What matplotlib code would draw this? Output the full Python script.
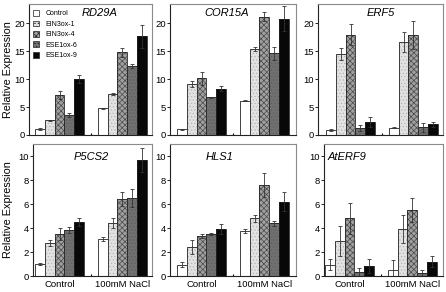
import numpy as np
import matplotlib.pyplot as plt
from matplotlib.patches import Patch

plt.rcParams['font.family'] = ['Liberation Sans', 'DejaVu Sans']
plt.rcParams['hatch.linewidth'] = 0.5

lines = ['Control', 'EIN3ox-1', 'EIN3ox-4', 'ESE1ox-6', 'ESE1ox-9']
conditions = ['Control', '100mM NaCl']
genes = ['RD29A', 'COR15A', 'ERF5', 'P5CS2', 'HLS1', 'AtERF9']

# mean values, one row per condition (Control, 100mM NaCl)
rd29a = [[1.1, 2.6, 7.1, 3.6, 10.0], [4.8, 7.3, 14.8, 12.3, 17.6]]
rd29a_err = [[0.15, 0.15, 0.7, 0.3, 0.8], [0.1, 0.2, 0.8, 0.4, 2.1]]
cor15a = [[1.0, 9.1, 10.1, 6.7, 8.3], [6.1, 15.4, 21.1, 14.6, 20.8]]
cor15a_err = [[0.1, 0.5, 1.1, 0.1, 0.5], [0.1, 0.4, 0.8, 1.2, 2.3]]
erf5 = [[0.9, 14.5, 17.9, 1.3, 2.4], [1.3, 16.6, 17.9, 1.4, 1.9]]
erf5_err = [[0.1, 1.1, 1.9, 0.5, 0.9], [0.1, 1.8, 2.5, 0.8, 0.4]]
p5cs2 = [[1.0, 2.75, 3.5, 3.85, 4.5], [3.1, 4.4, 6.4, 6.5, 9.7]]
p5cs2_err = [[0.05, 0.25, 0.5, 0.25, 0.35], [0.15, 0.4, 0.6, 0.75, 1.0]]
hls1 = [[0.95, 2.4, 3.35, 3.5, 3.9], [3.75, 4.8, 7.55, 4.4, 6.2]]
hls1_err = [[0.2, 0.6, 0.15, 0.1, 0.4], [0.2, 0.3, 1.0, 0.2, 0.8]]
aterf9 = [[0.95, 2.9, 4.8, 0.3, 0.85], [0.5, 3.9, 5.5, 0.25, 1.2]]
aterf9_err = [[0.45, 1.25, 1.3, 0.35, 0.6], [0.85, 1.15, 1.0, 0.25, 0.45]]

values = [rd29a, cor15a, erf5, p5cs2, hls1, aterf9]
errors = [rd29a_err, cor15a_err, erf5_err, p5cs2_err, hls1_err, aterf9_err]

colors = ['white', '#e2e2e2', '#a0a0a0', '#707070', '#080808']
hatches = [None, '.....', 'xxxxxx', '.....', None]
hatch_cols = ['black', '#b4b4b4', '#4a4a4a', '#5e5e5e', 'black']

W, H = 446, 292
fig = plt.figure(figsize=(W / 100, H / 100), dpi=100)

# axes boxes in pixels: left, right, top, bottom
boxes = [(29, 152, 4, 135), (170, 296, 4, 135), (318, 443, 4, 135),
         (33, 152, 144, 276), (170, 296, 144, 276), (324, 443, 144, 276)]
first_bar = [35, 177, 326, 35, 177, 325]
title_x = [100, 227, 381, 91, 220, 347]
group_gap = 6.4
px_per_unit = 9.82

for i, gene in enumerate(genes):
    l, r, t, b = boxes[i]
    ax = fig.add_axes([l / W, 1 - b / H, (r - l) / W, (b - t) / H])
    centers = np.array([0, group_gap])
    for k in range(5):
        x = centers + (k - 2)
        v = [values[i][0][k], values[i][1][k]]
        e = [errors[i][0][k], errors[i][1][k]]
        ax.bar(x, v, width=1.0, color=colors[k], hatch=hatches[k],
               edgecolor=hatch_cols[k], linewidth=0)
        ax.bar(x, v, width=1.0, fill=False, edgecolor='#222222', linewidth=0.6)
        ax.errorbar(x, v, yerr=e, fmt='none', ecolor='#333333', elinewidth=0.6,
                    capsize=1.2, capthick=0.6)
    x0 = -2.5 - (first_bar[i] - l) / px_per_unit
    x1 = x0 + (r - l) / px_per_unit
    ax.set_xlim(x0, x1)
    if i < 3:
        ax.set_ylim(0, 23.4)
        ax.set_yticks([0, 5, 10, 15, 20])
    else:
        ax.set_ylim(0, 11)
        ax.set_yticks([0, 2, 4, 6, 8, 10])
    ax.set_xticks(centers)
    if i >= 3:
        ax.set_xticklabels(conditions, fontsize=6.8)
    else:
        ax.set_xticklabels([])
    ax.tick_params(axis='x', length=0, pad=3)
    ax.set_xticks([group_gap / 2], minor=True)
    ax.tick_params(axis='x', which='minor', direction='in', length=1.5, width=0.8)
    ax.tick_params(axis='y', labelsize=6.8, length=2, width=0.6, pad=1)
    for s in ['top', 'right']:
        ax.spines[s].set_color('#8a8a8a')
    for s in ['left', 'bottom']:
        ax.spines[s].set_color('#222222')
    for s in ax.spines.values():
        s.set_linewidth(0.8)
    fig.text(title_x[i] / W, 1 - (13 if i < 3 else 157) / H, gene,
             style='italic', fontsize=8, ha='center', va='center')
    if i % 3 == 0:
        fig.text(8 / W, 1 - ((t + b) / 2) / H, 'Relative Expression',
                 rotation=90, fontsize=7.8, ha='center', va='center')

# legend in first panel
ax0 = fig.axes[0]
patches = [Patch(facecolor=colors[k], hatch=hatches[k], edgecolor='#222222',
                 linewidth=0.5) for k in range(5)]
ax0.legend(patches, lines, loc='upper left', bbox_to_anchor=(0.0, 0.985),
           fontsize=5.0, frameon=False, handlelength=0.9, handleheight=0.9,
           handletextpad=0.9, labelspacing=0.45, borderaxespad=0.2)

fig.savefig('out.png', dpi=100)
